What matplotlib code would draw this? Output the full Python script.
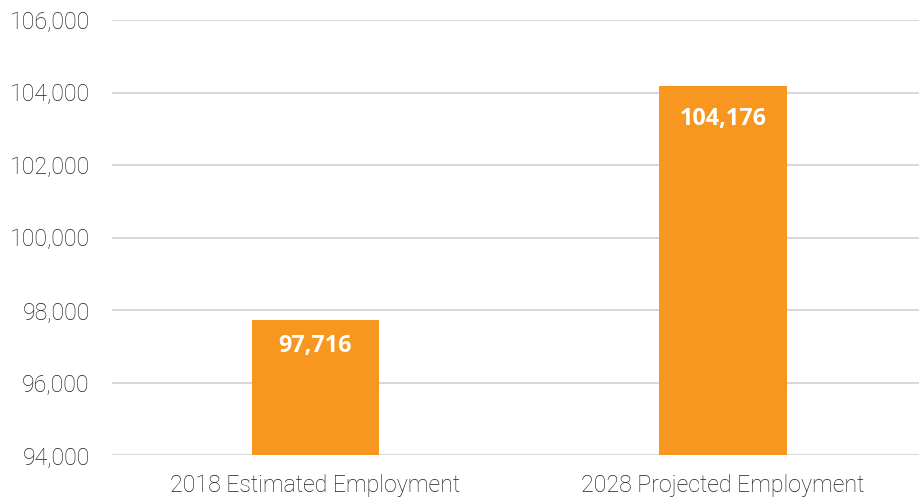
import matplotlib.pyplot as plt
from matplotlib.ticker import FuncFormatter

categories = ["2018 Estimated Employment", "2028 Projected Employment"]
values = [97716, 104176]
label_offsets = [-26, -33]  # px below bar top

BAR_COLOR = "#F7971F"
TEXT_COLOR = "#1E1E1E"
GRID_COLOR = "#D9D9D9"

fig = plt.figure(figsize=(9.19, 4.99), dpi=100)
ax = fig.add_axes([112 / 919, 44 / 499, 807 / 919, 435 / 499])

x = range(len(categories))
bars = ax.bar(x, values, width=0.312, color=BAR_COLOR, zorder=3)

ax.set_ylim(94000, 106000)
ax.set_xlim(-0.499, 1.481)
ax.set_yticks(range(94000, 106001, 2000))
ax.yaxis.set_major_formatter(FuncFormatter(lambda v, _: f"{int(v):,}"))
ax.set_xticks(list(x))
ax.set_xticklabels(categories)

ax.grid(axis="y", color=GRID_COLOR, linewidth=1.5, zorder=0)
for s in ax.spines.values():
    s.set_visible(False)
ax.tick_params(axis="both", length=0, labelsize=16.7, labelcolor=TEXT_COLOR)
ax.tick_params(axis="y", pad=16)
ax.tick_params(axis="x", pad=13.5)
for lbl in ax.get_xticklabels() + ax.get_yticklabels():
    lbl.set_fontfamily(["Roboto", "DejaVu Sans"])
    lbl.set_fontweight("light")

# value labels inside the bars
for bar, v, off in zip(bars, values, label_offsets):
    ax.annotate(f"{v:,}", (bar.get_x() + bar.get_width() / 2, v),
                xytext=(0, off * 0.72), textcoords="offset points",
                ha="center", va="center", color="white", fontsize=16.8,
                fontweight="bold", family=["Open Sans", "DejaVu Sans"], zorder=4)

fig.savefig("out.png", dpi=100)
